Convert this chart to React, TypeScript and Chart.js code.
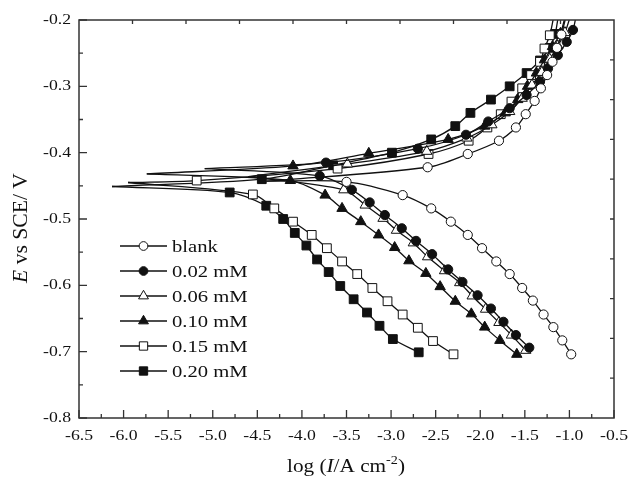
import React, { useEffect, useRef } from "react";
import { Chart, registerables } from "chart.js";
Chart.register(...registerables);

// ---------- data ----------
const seriesLabels = ["blank", "0.02 mM", "0.06 mM", "0.10 mM", "0.15 mM", "0.20 mM"];
const xTickValues = [-6.5, -6.0, -5.5, -5.0, -4.5, -4.0, -3.5, -3.0, -2.5, -2.0, -1.5, -1.0, -0.5];
const yTickValues = [-0.8, -0.7, -0.6, -0.5, -0.4, -0.3, -0.2];

// blank
const blankAnX = [-2.59, -2.14, -1.79, -1.6, -1.49, -1.39, -1.32, -1.25, -1.19, -1.14, -1.09];
const blankAnY = [-0.422, -0.402, -0.382, -0.362, -0.342, -0.322, -0.303, -0.283, -0.263, -0.242, -0.222];
const blankCaX = [-3.5, -2.87, -2.55, -2.33, -2.14, -1.98, -1.82, -1.67, -1.53, -1.41, -1.29, -1.18, -1.08, -0.98];
const blankCaY = [-0.444, -0.464, -0.484, -0.504, -0.524, -0.544, -0.564, -0.583, -0.604, -0.623, -0.644, -0.663, -0.683, -0.704];
const blankTip = [-4.4, -0.443];
const blankEnd = [-1.03, -0.19];

// 0.02 mM
const c002AnX = [-3.73, -2.7, -2.16, -1.91, -1.67, -1.48, -1.33, -1.24, -1.13, -1.03, -0.96];
const c002AnY = [-0.415, -0.394, -0.373, -0.353, -0.333, -0.313, -0.293, -0.273, -0.253, -0.233, -0.215];
const c002CaX = [-3.8, -3.44, -3.24, -3.07, -2.88, -2.72, -2.54, -2.36, -2.2, -2.03, -1.88, -1.74, -1.6, -1.45];
const c002CaY = [-0.435, -0.456, -0.475, -0.494, -0.514, -0.533, -0.553, -0.576, -0.595, -0.615, -0.635, -0.655, -0.675, -0.694];
const c002Tip = [-5.09, -0.424];
const c002End = [-0.92, -0.19];

// 0.06 mM
const c006AnX = [-3.49, -2.6, -2.15, -1.87, -1.67, -1.53, -1.42, -1.31, -1.22, -1.13, -1.05];
const c006AnY = [-0.417, -0.398, -0.378, -0.358, -0.338, -0.318, -0.298, -0.279, -0.259, -0.239, -0.219];
const c006CaX = [-3.53, -3.29, -3.09, -2.94, -2.75, -2.59, -2.4, -2.23, -2.09, -1.94, -1.79, -1.65, -1.49];
const c006CaY = [-0.456, -0.479, -0.499, -0.517, -0.536, -0.557, -0.578, -0.596, -0.616, -0.636, -0.656, -0.675, -0.698];
const c006Tip = [-4.6, -0.436];
const c006End = [-0.98, -0.19];

// 0.10 mM
const c010AnX = [-4.1, -3.25, -2.36, -1.95, -1.72, -1.58, -1.47, -1.37, -1.28, -1.19, -1.1];
const c010AnY = [-0.42, -0.401, -0.38, -0.36, -0.34, -0.32, -0.3, -0.28, -0.26, -0.24, -0.22];
const c010CaX = [-4.13, -3.74, -3.55, -3.34, -3.14, -2.96, -2.8, -2.61, -2.45, -2.28, -2.1, -1.95, -1.78, -1.59];
const c010CaY = [-0.442, -0.464, -0.484, -0.504, -0.524, -0.543, -0.563, -0.582, -0.602, -0.624, -0.643, -0.663, -0.683, -0.704];
const c010Tip = [-5.74, -0.432];
const c010End = [-1.04, -0.19];

// 0.15 mM
const c015AnX = [-5.18, -3.6, -2.58, -2.13, -1.92, -1.77, -1.65, -1.53, -1.43, -1.33, -1.28, -1.22];
const c015AnY = [-0.442, -0.424, -0.402, -0.382, -0.362, -0.342, -0.323, -0.303, -0.283, -0.263, -0.243, -0.223];
const c015CaX = [-4.55, -4.31, -4.1, -3.89, -3.72, -3.55, -3.38, -3.21, -3.04, -2.87, -2.7, -2.53, -2.3];
const c015CaY = [-0.463, -0.484, -0.504, -0.524, -0.544, -0.564, -0.583, -0.604, -0.624, -0.644, -0.664, -0.684, -0.704];
const c015Tip = [-5.95, -0.445];
const c015End = [-1.17, -0.19];

// 0.20 mM
const c020AnX = [-4.45, -3.65, -2.99, -2.55, -2.28, -2.11, -1.88, -1.67, -1.48, -1.33, -1.22, -1.16];
const c020AnY = [-0.44, -0.419, -0.4, -0.38, -0.36, -0.34, -0.32, -0.3, -0.28, -0.261, -0.242, -0.221];
const c020CaX = [-4.81, -4.4, -4.21, -4.08, -3.95, -3.83, -3.7, -3.57, -3.42, -3.27, -3.13, -2.98, -2.69];
const c020CaY = [-0.46, -0.48, -0.5, -0.521, -0.54, -0.561, -0.58, -0.601, -0.621, -0.641, -0.661, -0.681, -0.701];
const c020Tip = [-6.13, -0.451];
const c020End = [-1.12, -0.19];

// ---------- styles ----------
const INK = "#111";
const FONT = "'Liberation Serif', 'Times New Roman', serif";
const SX = 1.18;
const markerStyles = [
  { shape: "circle", filled: false, r: 4.6 },
  { shape: "circle", filled: true, r: 4.6 },
  { shape: "triangle", filled: false, r: 6 },
  { shape: "triangle", filled: true, r: 6 },
  { shape: "rect", filled: false, r: 6.2 },
  { shape: "rect", filled: true, r: 6.2 },
];

type Pt = { x: number; y: number; m: boolean };
// anodic branch: top end -> markers -> tip (corrosion spike)
function anodicPath(anX: number[], anY: number[], tip: number[], end: number[]): Pt[] {
  const pts: Pt[] = [{ x: end[0], y: end[1], m: false }];
  for (let i = anX.length - 1; i >= 0; i--) pts.push({ x: anX[i], y: anY[i], m: true });
  pts.push({ x: tip[0], y: tip[1], m: false });
  return pts;
}
// cathodic branch: tip -> markers
function cathodicPath(caX: number[], caY: number[], tip: number[]): Pt[] {
  const pts: Pt[] = [{ x: tip[0], y: tip[1], m: false }];
  caX.forEach((x, i) => pts.push({ x, y: caY[i], m: true }));
  return pts;
}

const seriesData = [
  { an: anodicPath(blankAnX, blankAnY, blankTip, blankEnd), ca: cathodicPath(blankCaX, blankCaY, blankTip) },
  { an: anodicPath(c002AnX, c002AnY, c002Tip, c002End), ca: cathodicPath(c002CaX, c002CaY, c002Tip) },
  { an: anodicPath(c006AnX, c006AnY, c006Tip, c006End), ca: cathodicPath(c006CaX, c006CaY, c006Tip) },
  { an: anodicPath(c010AnX, c010AnY, c010Tip, c010End), ca: cathodicPath(c010CaX, c010CaY, c010Tip) },
  { an: anodicPath(c015AnX, c015AnY, c015Tip, c015End), ca: cathodicPath(c015CaX, c015CaY, c015Tip) },
  { an: anodicPath(c020AnX, c020AnY, c020Tip, c020End), ca: cathodicPath(c020CaX, c020CaY, c020Tip) },
];

function drawMarker(ctx: CanvasRenderingContext2D, shape: string, filled: boolean, r: number, x: number, y: number) {
  ctx.beginPath();
  if (shape === "circle") {
    ctx.arc(x, y, r, 0, Math.PI * 2);
  } else if (shape === "rect") {
    const s = r * Math.SQRT1_2;
    ctx.rect(x - s, y - s, 2 * s, 2 * s);
  } else {
    let a = 0;
    for (let k = 0; k < 3; k++) {
      const px = x + Math.sin(a) * r;
      const py = y - Math.cos(a) * r;
      if (k === 0) ctx.moveTo(px, py);
      else ctx.lineTo(px, py);
      a += (2 * Math.PI) / 3;
    }
    ctx.closePath();
  }
  ctx.fillStyle = filled ? INK : "#fff";
  ctx.fill();
  ctx.strokeStyle = INK;
  ctx.lineWidth = 1;
  ctx.stroke();
}

function stretchText(ctx: CanvasRenderingContext2D, text: string, x: number, y: number, align: CanvasTextAlign) {
  ctx.save();
  ctx.translate(x, y);
  ctx.scale(SX, 1);
  ctx.textAlign = align;
  ctx.fillText(text, 0, 0);
  ctx.restore();
}

type Piece = { t: string; font: string; dy?: number };
function drawPieces(ctx: CanvasRenderingContext2D, pieces: Piece[], cx: number, cy: number, sx: number) {
  let total = 0;
  pieces.forEach((p) => {
    ctx.font = p.font;
    total += ctx.measureText(p.t).width;
  });
  ctx.save();
  ctx.translate(cx, cy);
  ctx.scale(sx, 1);
  let x = -total / 2;
  ctx.textAlign = "left";
  ctx.textBaseline = "alphabetic";
  pieces.forEach((p) => {
    ctx.font = p.font;
    ctx.fillText(p.t, x, p.dy || 0);
    x += ctx.measureText(p.t).width;
  });
  ctx.restore();
}

const decorPlugin = {
  id: "decor",
  afterDatasetsDraw(chart: any) {
    const { ctx, chartArea: a, scales } = chart;
    const xs = scales.x;
    const ys = scales.y;
    ctx.save();
    ctx.strokeStyle = "#333";
    ctx.lineWidth = 1.5;
    ctx.strokeRect(a.left, a.top, a.right - a.left, a.bottom - a.top);
    ctx.lineWidth = 1.3;
    ctx.beginPath();
    for (let i = 0; i <= 24; i++) {
      const v = xTickValues[0] + i * 0.25;
      const px = xs.getPixelForValue(v);
      const L = i % 2 === 0 ? 8 : 4;
      ctx.moveTo(px, a.bottom);
      ctx.lineTo(px, a.bottom - L);
    }
    for (let i = 0; i <= 12; i++) {
      const v = yTickValues[0] + i * 0.05;
      const py = ys.getPixelForValue(v);
      const L = i % 2 === 0 ? 8 : 4;
      ctx.moveTo(a.left, py);
      ctx.lineTo(a.left + L, py);
    }
    for (let i = 1; i < 10; i++) {
      const px = a.left + ((a.right - a.left) * i) / 10;
      ctx.moveTo(px, a.top);
      ctx.lineTo(px, a.top + 4);
      const py = a.top + ((a.bottom - a.top) * i) / 10;
      ctx.moveTo(a.right, py);
      ctx.lineTo(a.right - 4, py);
    }
    ctx.stroke();

    ctx.fillStyle = INK;
    ctx.font = `15px ${FONT}`;
    ctx.textBaseline = "middle";
    xTickValues.forEach((v) => {
      stretchText(ctx, v.toFixed(1), xs.getPixelForValue(v), a.bottom + 18, "center");
    });
    yTickValues.forEach((v) => {
      stretchText(ctx, v.toFixed(1), a.left - 8, ys.getPixelForValue(v), "right");
    });

    const lx0 = 120, lx1 = 167, lm = 143.5, lt = 172, ly0 = 246, dy = 25;
    seriesLabels.forEach((lab, i) => {
      const y = ly0 + i * dy;
      ctx.strokeStyle = INK;
      ctx.lineWidth = 1.3;
      ctx.beginPath();
      ctx.moveTo(lx0, y);
      ctx.lineTo(lx1, y);
      ctx.stroke();
      const ms = markerStyles[i];
      drawMarker(ctx, ms.shape, ms.filled, ms.r * 0.95, lm, y);
      ctx.fillStyle = INK;
      ctx.font = `17.5px ${FONT}`;
      ctx.textBaseline = "middle";
      stretchText(ctx, lab, lt, y + 1, "left");
    });

    ctx.fillStyle = INK;
    drawPieces(
      ctx,
      [
        { t: "log (", font: `18px ${FONT}` },
        { t: "I", font: `italic 18px ${FONT}` },
        { t: "/A cm", font: `18px ${FONT}` },
        { t: "-2", font: `12px ${FONT}`, dy: -8 },
        { t: ")", font: `18px ${FONT}` },
      ],
      346,
      472,
      SX
    );
    ctx.save();
    ctx.translate(27, 228);
    ctx.rotate(-Math.PI / 2);
    drawPieces(
      ctx,
      [
        { t: "E", font: `italic 20px ${FONT}` },
        { t: " vs SCE/ V", font: `20px ${FONT}` },
      ],
      0,
      0,
      1.08
    );
    ctx.restore();
    ctx.restore();
  },
};

export default function App() {
  const ref = useRef<HTMLCanvasElement>(null);
  useEffect(() => {
    if (!ref.current) return;
    const datasets: any[] = [];
    seriesData.forEach((s, i) => {
      const ms = markerStyles[i];
      [s.an, s.ca].forEach((pts, k) => {
        datasets.push({
          label: seriesLabels[i] + (k === 0 ? " anodic" : " cathodic"),
          data: pts,
          showLine: true,
          borderColor: INK,
          borderWidth: 1.3,
          tension: 0.3,
          pointStyle: ms.shape,
          pointRadius: (c: any) => (c.raw && c.raw.m ? ms.r : 0),
          pointHoverRadius: 0,
          pointBackgroundColor: ms.filled ? INK : "#fff",
          pointBorderColor: INK,
          pointBorderWidth: 1,
        });
      });
    });
    const chart = new Chart(ref.current, {
      type: "scatter",
      data: { datasets },
      options: {
        responsive: false,
        animation: false,
        devicePixelRatio: 1,
        layout: { padding: { top: 20, right: 16, left: 0, bottom: 0 } },
        plugins: { legend: { display: false }, tooltip: { enabled: false } },
        scales: {
          x: {
            type: "linear",
            min: -6.5,
            max: -0.5,
            grid: { display: false },
            border: { display: false },
            ticks: { display: false },
            afterFit: (s: any) => {
              s.height = 62;
            },
          },
          y: {
            type: "linear",
            min: -0.8,
            max: -0.2,
            grid: { display: false },
            border: { display: false },
            ticks: { display: false },
            afterFit: (s: any) => {
              s.width = 79;
            },
          },
        },
      },
      plugins: [decorPlugin],
    });
    return () => chart.destroy();
  }, []);
  return (
    <div style={{ position: "fixed", left: 0, top: 0, width: 630, height: 480, background: "#fff" }}>
      <canvas ref={ref} width={630} height={480} style={{ width: 630, height: 480 }} />
    </div>
  );
}
